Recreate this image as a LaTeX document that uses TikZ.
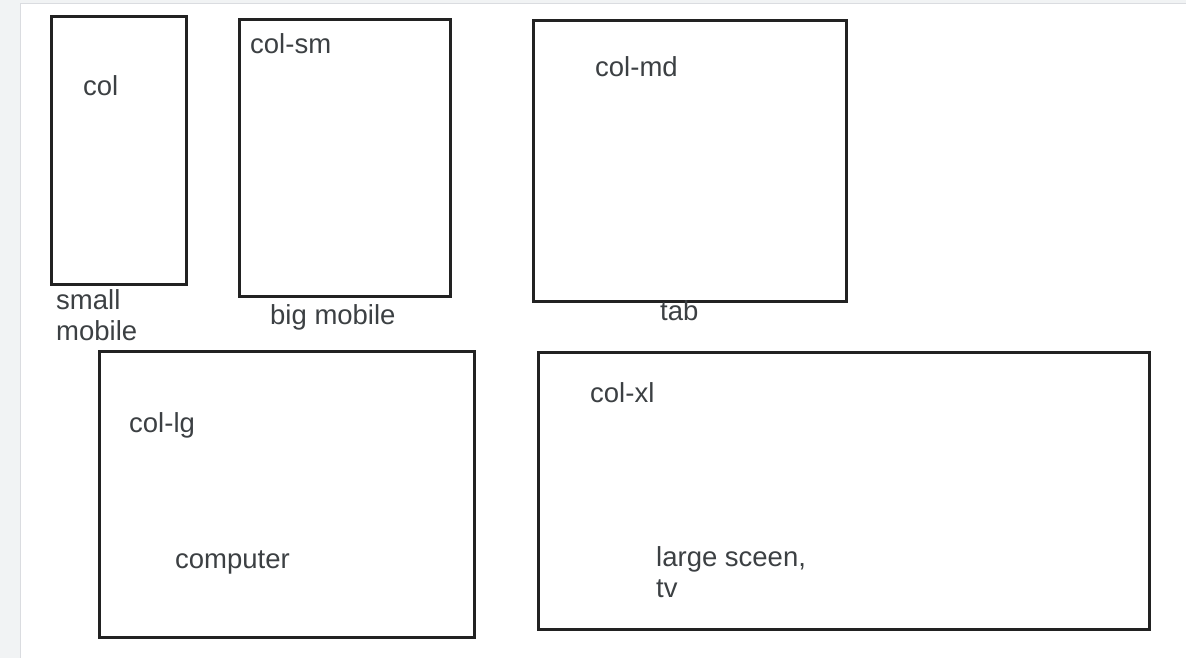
\documentclass[tikz,border=0pt]{standalone}
\usepackage{fontspec}
\setmainfont{Liberation Sans}
\definecolor{pagegray}{HTML}{F1F3F4}
\definecolor{edgegray}{HTML}{DADCE0}
\definecolor{inkgray}{HTML}{3C4043}
\definecolor{boxblack}{HTML}{222222}
\tikzset{
  screen/.style={draw=boxblack, line width=3pt, anchor=north west, inner sep=0pt},
  label/.style={anchor=base west, inner sep=0pt, text=inkgray, font=\fontsize{27.5}{31}\selectfont, align=left}
}

\begin{document}
\begin{tikzpicture}[x=1pt, y=-1pt]
                    \useasboundingbox (0,0) rectangle (1186,658);
                    \fill[pagegray] (0,0) rectangle (20,658);
                    \fill[pagegray] (20,0) rectangle (1186,3);
                    \draw[edgegray, line width=1.5pt] (20.5,658) -- (20.5,3.5) -- (1186,3.5);

                    \node[screen, minimum width=135pt, minimum height=268pt] (xs) at (50,15) {};
                    \node[screen, minimum width=211pt, minimum height=277pt] (sm) at (238,18) {};
                    \node[screen, minimum width=313pt, minimum height=281pt] (md) at (532,19) {};
                    \node[screen, minimum width=375pt, minimum height=286pt] (lg) at (98,350) {};
                    \node[screen, minimum width=611pt, minimum height=277pt] (xl) at (537,351) {};

                    \node[label] (xsname) at (83,96) {col};
                    \node[label] (smname) at (250,54) {col-sm};
                    \node[label] (mdname) at (595,77) {col-md};
                    \node[label] (lgname) at (129,432) {col-lg};
                    \node[label] (xlname) at (590,402) {col-xl};

                    \node[label] (xsdevice) at (56,340) {small\\mobile};
                    \node[label] (smdevice) at (270,324) {big mobile};
                    \node[label] (mddevice) at (660,320) {tab};
                    \node[label] (lgdevice) at (175,568) {computer};
                    \node[label] (xldevice) at (656,597) {large sceen,\\tv};
                \end{tikzpicture}
\end{document}
